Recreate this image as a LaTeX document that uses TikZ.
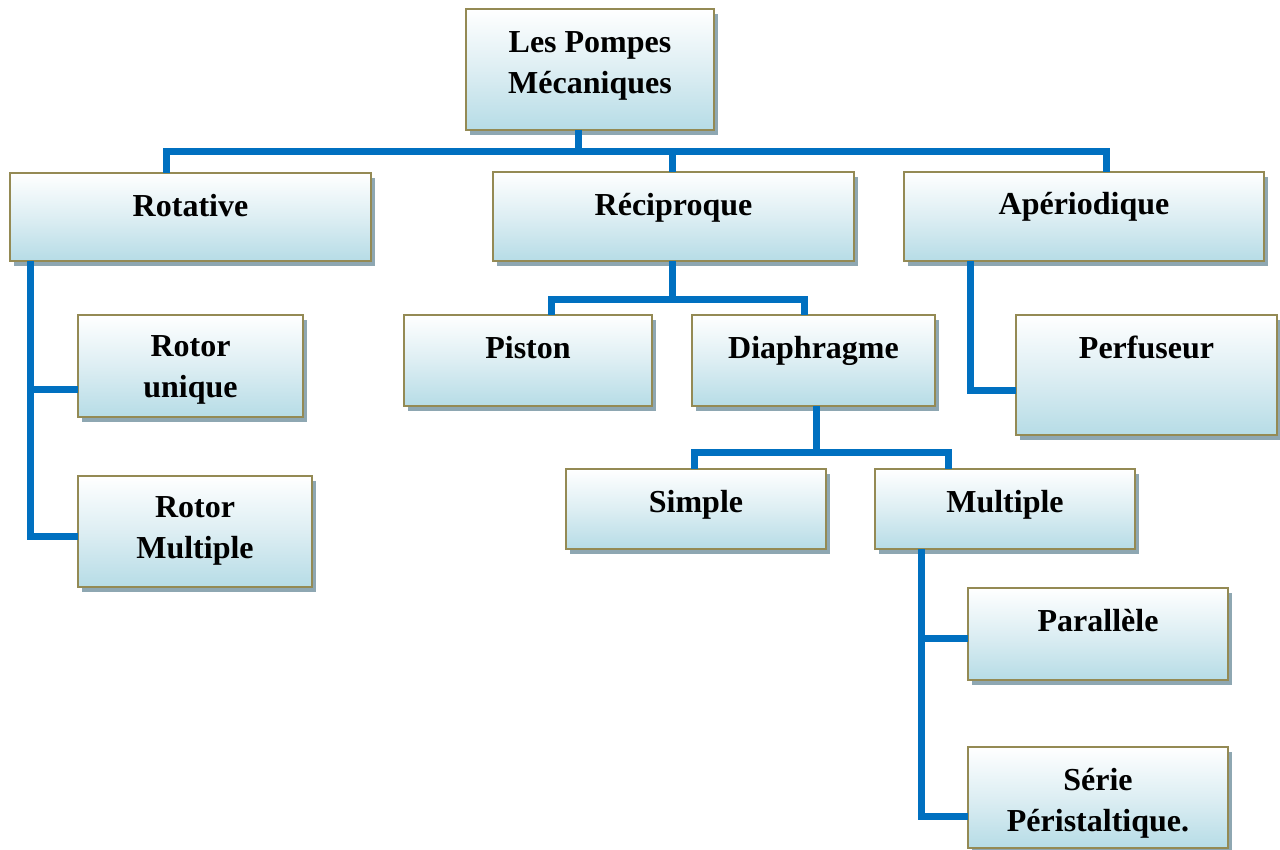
\documentclass[tikz,border=0pt]{standalone}
\usepackage{fontspec}
\setmainfont{Liberation Serif}
\usetikzlibrary{shadows}
\definecolor{connblue}{HTML}{0070C0}
\definecolor{boxborder}{HTML}{948A54}
\definecolor{boxblue}{HTML}{B6DCE6}
\definecolor{boxmid}{HTML}{DDEEF3}
\definecolor{shadowc}{HTML}{8EA7B2}
\tikzset{
  box/.style={rectangle, anchor=north west, inner sep=0pt, outer sep=0pt,
    draw=boxborder, line width=2.8pt,
    top color=white, bottom color=boxblue, middle color=boxmid,
    drop shadow={fill=shadowc, opacity=1, shadow xshift=4pt, shadow yshift=-5pt}},
  txt/.style={anchor=north, align=center, inner sep=0pt, outer sep=0pt,
    font=\fontsize{32}{41}\selectfont\bfseries},
  conn/.style={draw=connblue, line width=7pt, line join=miter, line cap=butt}
}
\begin{document}
\begin{tikzpicture}[x=1pt, y=-1pt]
\useasboundingbox[fill=white] (0,0) rectangle (1280,850);
% boxes
\node[box, minimum width=248pt, minimum height=121pt] (lpm) at (466,9) {};
\node[box, minimum width=361pt, minimum height=88pt] (rot) at (10,173) {};
\node[box, minimum width=361pt, minimum height=89pt] (rec) at (493,172) {};
\node[box, minimum width=360pt, minimum height=89pt] (ape) at (904,172) {};
\node[box, minimum width=225pt, minimum height=102pt] (ru) at (78,315) {};
\node[box, minimum width=234pt, minimum height=111pt] (rm) at (78,476) {};
\node[box, minimum width=248pt, minimum height=91pt] (pis) at (404,315) {};
\node[box, minimum width=243pt, minimum height=91pt] (dia) at (692,315) {};
\node[box, minimum width=261pt, minimum height=120pt] (per) at (1016,315) {};
\node[box, minimum width=260pt, minimum height=80pt] (sim) at (566,469) {};
\node[box, minimum width=260pt, minimum height=80pt] (mul) at (875,469) {};
\node[box, minimum width=260pt, minimum height=92pt] (par) at (968,588) {};
\node[box, minimum width=260pt, minimum height=101pt] (ser) at (968,747) {};
% texts
\node[txt] (lpm-t) at ([yshift=-23pt]lpm.north) {Les Pompes\\Mécaniques};
\node[txt] (rot-t) at ([yshift=-21pt]rot.north) {Rotative};
\node[txt] (rec-t) at ([yshift=-21pt]rec.north) {Réciproque};
\node[txt] (ape-t) at ([yshift=-20pt]ape.north) {Apériodique};
\node[txt] (ru-t) at ([yshift=-21pt]ru.north) {Rotor\\unique};
\node[txt] (rm-t) at ([yshift=-21pt]rm.north) {Rotor\\Multiple};
\node[txt] (pis-t) at ([yshift=-21pt]pis.north) {Piston};
\node[txt] (dia-t) at ([yshift=-21pt]dia.north) {Diaphragme};
\node[txt] (per-t) at ([yshift=-21pt]per.north) {Perfuseur};
\node[txt] (sim-t) at ([yshift=-21pt]sim.north) {Simple};
\node[txt] (mul-t) at ([yshift=-21pt]mul.north) {Multiple};
\node[txt] (par-t) at ([yshift=-21pt]par.north) {Parallèle};
\node[txt] (ser-t) at ([yshift=-21pt]ser.north) {Série\\Péristaltique.};
% connectors
\draw[conn] (lpm.south -| 578,0) -- (578,152);
\draw[conn] (rot.north -| 166,0) -- (166,152) -- (1106,152) -- (ape.north -| 1106,0);
\draw[conn] (rec.north -| 672,0) -- (672,152);
% Rotative
\draw[conn] (rot.south -| 30,0) -- (30,536) -- (rm.west |- 0,536);
\draw[conn] (30,389) -- (ru.west |- 0,389);
% Reciproque
\draw[conn] (rec.south -| 672,0) -- (672,300);
\draw[conn] (pis.north -| 551,0) -- (551,300) -- (804,300) -- (dia.north -| 804,0);
% Diaphragme
\draw[conn] (dia.south -| 816,0) -- (816,452);
\draw[conn] (sim.north -| 694,0) -- (694,452) -- (948,452) -- (mul.north -| 948,0);
% Multiple
\draw[conn] (mul.south -| 921,0) -- (921,816) -- (ser.west |- 0,816);
\draw[conn] (921,638) -- (par.west |- 0,638);
% Aperiodique
\draw[conn] (ape.south -| 970,0) -- (970,390) -- (per.west |- 0,390);
\end{tikzpicture}
\end{document}
